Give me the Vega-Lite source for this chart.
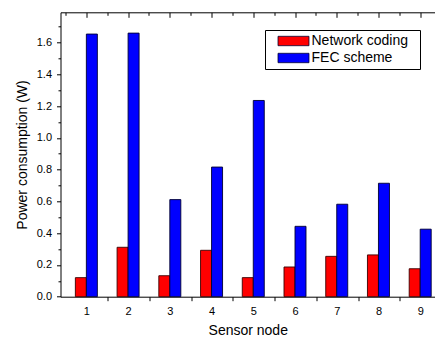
{
  "$schema": "https://vega.github.io/schema/vega-lite/v6.json",
  "width": 374.5,
  "height": 284.4,
  "autosize": {"type": "none"},
  "padding": {"left": 60.5, "top": 12.3, "right": 0, "bottom": 40.3},
  "background": "white",
  "config": {
    "font": "Liberation Sans",
    "view": {"stroke": null},
    "axis": {
      "labelFont": "Liberation Sans",
      "titleFont": "Liberation Sans",
      "labelColor": "#000",
      "titleColor": "#000",
      "domainColor": "#000",
      "tickColor": "#000",
      "labelFontSize": 11,
      "titleFontSize": 14,
      "titleFontWeight": "normal",
      "grid": false,
      "domainWidth": 1,
      "tickWidth": 1
    },
    "legend": {"labelFont": "Liberation Sans", "titleFont": "Liberation Sans"}
  },
  "data": {
    "values": [
      {"node": 1, "series": "Network coding", "value": 0.120},
      {"node": 2, "series": "Network coding", "value": 0.311},
      {"node": 3, "series": "Network coding", "value": 0.132},
      {"node": 4, "series": "Network coding", "value": 0.292},
      {"node": 5, "series": "Network coding", "value": 0.120},
      {"node": 6, "series": "Network coding", "value": 0.187},
      {"node": 7, "series": "Network coding", "value": 0.254},
      {"node": 8, "series": "Network coding", "value": 0.263},
      {"node": 9, "series": "Network coding", "value": 0.176},
      {"node": 1, "series": "FEC scheme", "value": 1.653},
      {"node": 2, "series": "FEC scheme", "value": 1.659},
      {"node": 3, "series": "FEC scheme", "value": 0.611},
      {"node": 4, "series": "FEC scheme", "value": 0.816},
      {"node": 5, "series": "FEC scheme", "value": 1.235},
      {"node": 6, "series": "FEC scheme", "value": 0.443},
      {"node": 7, "series": "FEC scheme", "value": 0.582},
      {"node": 8, "series": "FEC scheme", "value": 0.714},
      {"node": 9, "series": "FEC scheme", "value": 0.425}
    ]
  },
  "resolve": {"axis": {"x": "independent", "y": "independent"}},
  "layer": [
    {
      "transform": [{"filter": "datum.series === 'Network coding'"}],
      "mark": {"type": "bar", "width": 11, "xOffset": -5.5, "stroke": "#3a0000", "strokeWidth": 0.9},
      "encoding": {
        "x": {
          "field": "node", "type": "quantitative",
          "scale": {"domain": [0.5, 9.235], "nice": false, "zero": false},
          "axis": {
            "orient": "bottom",
            "values": [1, 2, 3, 4, 5, 6, 7, 8, 9],
            "format": "d",
            "tickOffset": 21.44,
            "labelOffset": -21.44,
            "tickSize": 4,
            "labelPadding": 5,
            "title": "Sensor node",
            "titlePadding": 7
          }
        },
        "y": {
          "field": "value", "type": "quantitative",
          "scale": {"domain": [0, 1.79], "nice": false, "zero": true},
          "axis": {
            "orient": "left",
            "values": [0, 0.1, 0.2, 0.3, 0.4, 0.5, 0.6, 0.7, 0.8, 0.9, 1.0, 1.1, 1.2, 1.3, 1.4, 1.5, 1.6, 1.7],
            "labelExpr": "round(datum.value*10) % 2 === 0 ? format(datum.value, '.1f') : ''",
            "tickSize": {"condition": {"test": "round(datum.value*10) % 2 === 0", "value": 4}, "value": 2.5},
            "labelPadding": 5,
            "title": "Power consumption (W)",
            "titlePadding": 7
          }
        },
        "color": {
          "field": "series", "type": "nominal",
          "scale": {"domain": ["Network coding", "FEC scheme"], "range": ["#ff0000", "#0000ff"]},
          "legend": {
            "orient": "none",
            "legendX": 204.5,
            "legendY": 17.7,
            "title": " ",
            "titleOrient": "right",
            "titlePadding": 8,
            "titleFontSize": 14,
            "strokeColor": "#000",
            "padding": 4,
            "symbolType": "M-3.3,-1H3.3V1H-3.3Z",
            "symbolSize": 88,
            "symbolStrokeColor": "#000",
            "symbolStrokeWidth": 0.8,
            "symbolOpacity": 1,
            "symbolOffset": 17.5,
            "labelOffset": 11,
            "labelFontSize": 14,
            "labelColor": "#000",
            "rowPadding": 3
          }
        }
      }
    },
    {
      "transform": [{"filter": "datum.series === 'FEC scheme'"}],
      "mark": {"type": "bar", "width": 11, "xOffset": 5.5, "stroke": "#000030", "strokeWidth": 0.9},
      "encoding": {
        "x": {
          "field": "node", "type": "quantitative",
          "scale": {"domain": [0.5, 9.235], "nice": false, "zero": false},
          "axis": {
            "orient": "top",
            "values": [0.5, 1, 1.5, 2, 2.5, 3, 3.5, 4, 4.5, 5, 5.5, 6, 6.5, 7, 7.5, 8, 8.5, 9],
            "labels": false,
            "title": null,
            "tickSize": {"condition": {"test": "datum.value % 1 === 0", "value": -5}, "value": -3}
          }
        },
        "y": {
          "field": "value", "type": "quantitative",
          "scale": {"domain": [0, 1.79], "nice": false, "zero": true},
          "axis": null
        },
        "color": {
          "field": "series", "type": "nominal",
          "scale": {"domain": ["Network coding", "FEC scheme"], "range": ["#ff0000", "#0000ff"]}
        }
      }
    }
  ]
}
